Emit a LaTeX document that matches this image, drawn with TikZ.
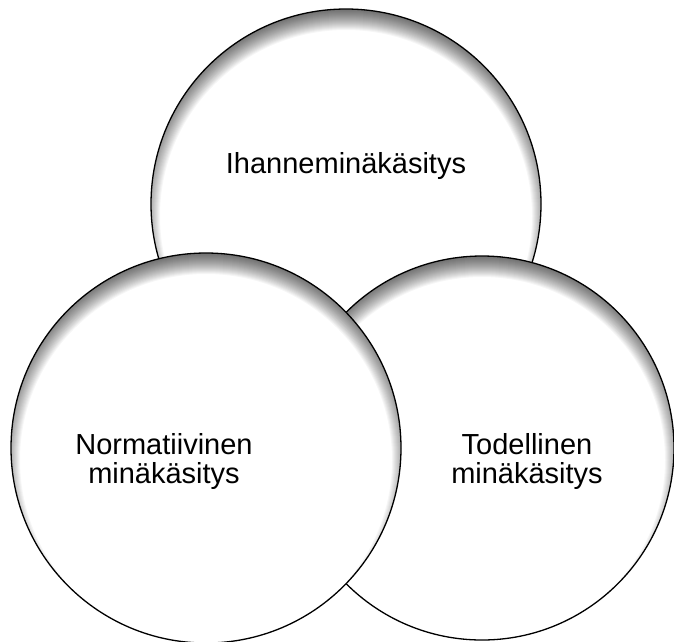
\documentclass[tikz,border=0pt]{standalone}
\usepackage{fontspec}
\setmainfont{Liberation Sans}
\begin{document}
\begin{tikzpicture}[x=1pt,y=-1pt,
  ring/.style={circle, draw=black, line width=1.3pt, fill=white, inner sep=0pt,
    minimum size=2*#1 pt,
    path picture={
      \foreach \k in {0,...,19}{
        \fill[black,opacity=0.035,even odd rule]
          (path picture bounding box.center) circle[radius={#1+30}]
          ([yshift=-12pt]path picture bounding box.center) circle[radius={#1+10-\k}];
      }
    }},
  lbl/.style={font=\fontsize{29}{29}\selectfont, align=center, inner sep=0pt}]
\useasboundingbox (0,0) rectangle (674,641);
\node[ring=195] (ideal) at (346,204) {};
\node[ring=192] (real) at (482,448) {};
\node[ring=195] (norm) at (206,448) {};
\node[lbl] (tideal) at (346,166) {Ihanneminäkäsitys};
\node[lbl] (tnorm) at (164,461) {Normatiivinen\\minäkäsitys};
\node[lbl] (treal) at (527,461) {Todellinen\\minäkäsitys};
\end{tikzpicture}
\end{document}
